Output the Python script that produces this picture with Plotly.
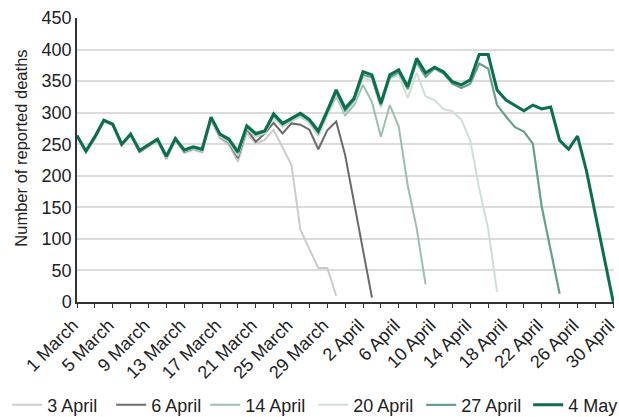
import datetime as dt
import plotly.graph_objects as go

start = dt.date(2020, 3, 1)
dates = [start + dt.timedelta(days=i) for i in range(61)]

series_names = ["3 April", "6 April", "14 April", "20 April", "27 April", "4 May"]

apr03 = [262, 237, 259, 286, 280, 248, 264, 237, 246, 255, 226, 256, 236, 241, 237,
         288, 259, 249, 222, 268, 251, 257, 273, 245, 217, 114, 84, 54, 54, 10]
apr06 = [263, 238, 260, 287, 281, 249, 265, 238, 247, 256, 228, 257, 238, 243, 239,
         290, 262, 252, 228, 274, 254, 267, 284, 267, 283, 281, 273, 242, 272, 286,
         233, 157, 84, 7]
apr14 = [263, 238, 261, 287, 281, 249, 265, 239, 247, 256, 229, 257, 239, 243, 239,
         290, 262, 253, 231, 275, 262, 267, 293, 278, 287, 294, 284, 264, 296, 326,
         296, 312, 344, 317, 262, 312, 278, 185, 117, 28]
apr20 = [263, 238, 261, 287, 281, 249, 265, 239, 247, 256, 229, 257, 239, 244, 240,
         291, 263, 254, 233, 276, 263, 268, 294, 279, 288, 295, 285, 265, 297, 330,
         300, 316, 356, 350, 308, 354, 360, 323, 363, 326, 320, 306, 302, 289, 256,
         180, 116, 16]
apr27 = [263, 239, 261, 287, 281, 250, 265, 240, 248, 257, 230, 258, 240, 245, 241,
         292, 265, 256, 236, 278, 265, 270, 296, 281, 290, 297, 287, 268, 300, 333,
         303, 320, 360, 356, 312, 356, 364, 337, 380, 357, 370, 362, 346, 339, 346,
         378, 370, 312, 294, 277, 270, 251, 151, 82, 13]
may04 = [264, 239, 262, 288, 282, 250, 266, 240, 249, 258, 231, 259, 241, 246, 242,
         293, 266, 258, 238, 279, 267, 271, 298, 283, 291, 299, 289, 271, 303, 336,
         307, 323, 365, 360, 315, 360, 368, 341, 386, 363, 372, 365, 349, 344, 352,
         392, 392, 336, 320, 311, 303, 312, 306, 309, 256, 242, 263, 208, 140, 70, 0]

all_series = [apr03, apr06, apr14, apr20, apr27, may04]
colors = ["#cbcbcb", "#6b6b6b", "#9dbfae", "#cde0d6", "#66a086", "#0b6e4f"]
widths = [2, 2, 2, 2, 2.2, 3]
legend_widths = [59, 49, 63, 63, 62, 50]
y_title = "Number of reported deaths"

FONT = "Liberation Sans, Arial, Helvetica, sans-serif"

fig = go.Figure()
for name, vals, c, w, lw in zip(series_names, all_series, colors, widths, legend_widths):
    fig.add_trace(go.Scatter(
        x=dates[:len(vals)], y=vals, name=name, mode="lines",
        line=dict(color=c, width=w), hoverinfo="skip", legendwidth=lw))

fig.update_layout(
    width=619, height=417,
    margin=dict(l=77, r=5, t=18, b=115, autoexpand=False),
    paper_bgcolor="white", plot_bgcolor="white",
    font=dict(family=FONT, color="#222222"),
    showlegend=True,
    legend=dict(orientation="h", xref="paper", yref="paper",
                x=-0.13, xanchor="left", y=-0.363, yanchor="middle",
                font=dict(size=18, color="#222222"),
                itemclick=False, traceorder="normal"),
)

fig.add_annotation(
    text=y_title, textangle=-90, showarrow=False,
    xref="paper", yref="paper", x=-(77 - 21) / 537, y=0.54,
    xanchor="center", yanchor="middle",
    font=dict(size=16.5, color="#222222"),
)

fig.update_xaxes(
    type="date", automargin=False,
    range=[dates[0], "2020-04-30 02:00"],
    tick0=dates[0], dtick=4 * 86400000,
    tickformat="%-d %B", tickangle=-45, ticklabeloverflow="allow",
    ticklabelshift=-4,
    tickfont=dict(size=18, color="#222222"),
    ticks="outside", ticklen=4, tickwidth=1, tickcolor="#333333",
    minor=dict(ticks="outside", dtick=2 * 86400000, tick0=dates[0],
               ticklen=4, tickwidth=1, tickcolor="#333333", showgrid=False),
    showgrid=False, showline=True, linecolor="#333333", linewidth=1.5,
    zeroline=False,
)
fig.update_yaxes(
    range=[0, 450], dtick=50, tick0=0, automargin=False,
    tickfont=dict(size=18, color="#222222"),
    showgrid=True, gridcolor="#dcdcdc", gridwidth=1.5,
    showline=True, linecolor="#333333", linewidth=1.5,
    zeroline=False, ticks="",
)

fig.write_html("out.html", config={"displayModeBar": False},
               post_script="document.body.style.margin='0';document.body.style.overflow='hidden';")
